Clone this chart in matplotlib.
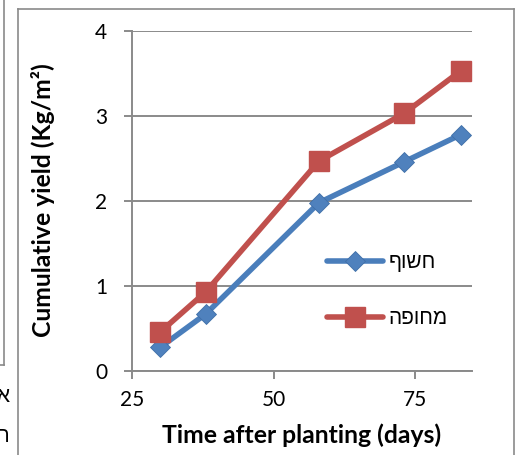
import matplotlib
matplotlib.use("Agg")
import matplotlib.pyplot as plt
from matplotlib.lines import Line2D

# Data
days = [30, 38, 58, 73, 83]
exposed = [0.28, 0.67, 1.98, 2.46, 2.78]
covered = [0.46, 0.93, 2.47, 3.03, 3.53]
series_names = ["חשוף", "מחופה"]
x_ticks = [25, 50, 75]
y_ticks = [0, 1, 2, 3, 4]

W, H = 522, 455
fig = plt.figure(figsize=(W / 100, H / 100), dpi=100)

GRAY = "#8a8a8a"
BLUE = "#4A7EBB"
RED = "#C0504D"
FONT = ["Lato", "DejaVu Sans"]
HEB = ["Liberation Sans", "DejaVu Sans"]


def fx(px):
    return px / W


def fy(py):
    return 1 - py / H


def visual(s):
    # matplotlib lays glyphs out left to right; flip Hebrew into display order
    return s[::-1]


# chart frame and neighbouring frame edge
for xs, ys in [
    ([17.5, 17.5], [H, 8.5]),
    ([17.5, 514], [8.5, 8.5]),
    ([514, 514], [8.5, H]),
    ([3.5, 3.5], [0, 365]),
    ([0, 3.5], [365, 365]),
]:
    fig.add_artist(Line2D([fx(x) for x in xs], [fy(y) for y in ys],
                          color=GRAY, lw=1.2, transform=fig.transFigure))

fig.text(fx(9), fy(397), "א", ha="right", va="center", fontsize=15,
         family=HEB, color="black")
fig.text(fx(9), fy(437), "ח", ha="right", va="center", fontsize=15,
         family=HEB, color="black")

left, right, top, bottom = 132, 472, 31, 371
ax = fig.add_axes([fx(left), fy(bottom), fx(right - left), (bottom - top) / H])

ax.plot(days, exposed, color=BLUE, lw=4, marker="D", ms=10,
        mfc="#4F81BD", mec="#3f6fa8", mew=0.6, label=visual(series_names[0]),
        solid_capstyle="round", zorder=3)
ax.plot(days, covered, color=RED, lw=4, marker="s", ms=14,
        mfc="#C0504D", mec="#C0504D", label=visual(series_names[1]),
        solid_capstyle="round", zorder=3)

ax.set_xlim(25, 85)
ax.set_ylim(0, 4)
ax.set_xticks(x_ticks)
ax.set_yticks(y_ticks)
ax.yaxis.grid(True, color=GRAY, lw=1.4)
ax.set_axisbelow(True)

for s in ["top", "right"]:
    ax.spines[s].set_visible(False)
for s in ["left", "bottom"]:
    ax.spines[s].set_color(GRAY)
    ax.spines[s].set_linewidth(1.4)

ax.tick_params(axis="both", direction="out", length=6, width=1.4,
               color=GRAY, labelsize=15, labelcolor="black")
ax.tick_params(axis="y", pad=12)
ax.tick_params(axis="x", pad=8)
for lab in ax.get_xticklabels() + ax.get_yticklabels():
    lab.set_family(FONT)

fig.text(fx(302), fy(435), "Time after planting (days)", fontsize=17.8,
         fontweight="bold", family=FONT, ha="center", va="center")
fig.text(fx(43), fy(200), "Cumulative yield (Kg/m²)", fontsize=17.8,
         fontweight="bold", family=FONT, ha="center", va="center",
         rotation=90)

ax.legend(loc="upper left",
          bbox_to_anchor=((327 - left) / (right - left), (bottom - 253) / (bottom - top)),
          frameon=False, prop={"family": HEB, "size": 15},
          handlelength=2.7, handletextpad=0.25, labelspacing=1.8,
          borderaxespad=0, borderpad=0)

fig.savefig("out.png", dpi=100)
